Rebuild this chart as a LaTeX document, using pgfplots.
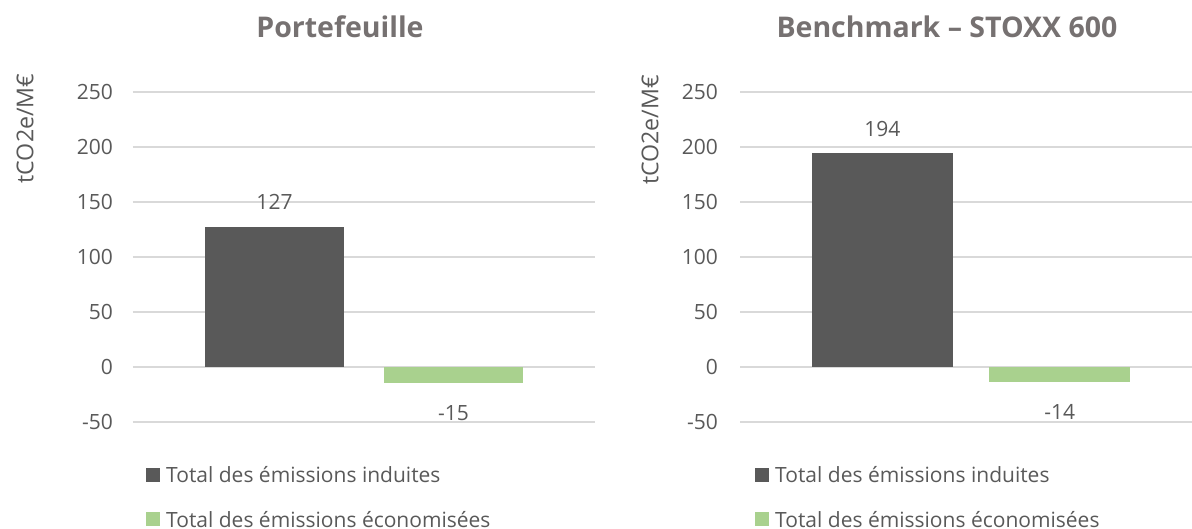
\documentclass[border=0pt]{standalone}
\usepackage{fontspec}
\setmainfont{Open Sans}
\usepackage{pgfplots}
\pgfplotsset{compat=1.18}
\definecolor{darkbar}{HTML}{595959}
\definecolor{greenbar}{HTML}{A9D18E}
\definecolor{txt}{HTML}{595959}
\definecolor{titlec}{HTML}{767171}
\definecolor{gridc}{HTML}{D9D9D9}
\pgfplotsset{
  panel/.style={
    scale only axis,
    width=462pt, height=330pt,
    ymin=-50, ymax=250,
    ytick={-50,0,50,100,150,200,250},
    xtick=\empty,
    axis line style={draw=none},
    major tick length=0pt,
    ymajorgrids,
    grid style={color=gridc, line width=1.6pt},
    /pgf/number format/assume math mode=true,
    tick label style={font=\fontsize{21}{25}\selectfont, text=txt},
    title style={font=\fontsize{28.5}{32}\selectfont\bfseries, text=titlec, anchor=center},
    ylabel style={font=\fontsize{23.2}{27}\selectfont, text=txt, anchor=center},
    legend style={draw=none, fill=none, inner sep=0pt, column sep=6pt, row sep=27pt,
      font=\fontsize{21}{25}\selectfont, text=txt,
      nodes={inner sep=0pt}, legend cell align=left, anchor=west},
    legend image code/.code={\fill[##1] (0pt,-6pt) rectangle (14pt,8pt);},
    nodes near coords,
    every node near coord/.append style={font=\fontsize{21}{25}\selectfont, text=txt},
  },
}
\begin{document}
\begin{tikzpicture}
\useasboundingbox (0pt,0pt) rectangle (1192pt,528pt);
% Left panel
\begin{axis}[panel,
  at={(133pt,106.3pt)}, anchor=south west,
  xmin=-0.7905, xmax=1.7905,
  title={Portefeuille},
  title style={at={(axis description cs:0.448,1.178)}},
  ylabel={tCO2e/M€},
  ylabel style={at={(axis description cs:-0.2338,0.8885)}},
  yticklabel style={anchor=east, inner sep=0pt, xshift=-20pt},
  legend style={at={(axis description cs:0.0281,-0.231)}},
]
\addplot[ybar, bar width=0.777, bar shift=0pt, fill=darkbar, draw=none,
  every node near coord/.append style={anchor=center, yshift=25pt}]
  coordinates {(0,127)};
\addplot[ybar, bar width=0.777, bar shift=0pt, fill=greenbar, draw=none,
  every node near coord/.append style={anchor=center, yshift=-30pt}]
  coordinates {(1,-15)};
\legend{Total des émissions induites, Total des émissions économisées}
\end{axis}
% Right panel
\begin{axis}[panel,
  at={(740pt,106.3pt)}, anchor=south west,
  xmin=-0.803, xmax=1.803,
  title={Benchmark – STOXX 600},
  title style={at={(axis description cs:0.448,1.178)}},
  ylabel={tCO2e/M€},
  ylabel style={at={(axis description cs:-0.1948,0.884)}},
  yticklabel style={anchor=east, inner sep=0pt, xshift=-22pt},
  legend style={at={(axis description cs:0.0325,-0.231)}},
]
\addplot[ybar, bar width=0.794, bar shift=0pt, fill=darkbar, draw=none,
  every node near coord/.append style={anchor=center, yshift=24pt}]
  coordinates {(0,194)};
\addplot[ybar, bar width=0.794, bar shift=0pt, fill=greenbar, draw=none,
  every node near coord/.append style={anchor=center, yshift=-30pt}]
  coordinates {(1,-14)};
\legend{Total des émissions induites, Total des émissions économisées}
\end{axis}
\end{tikzpicture}
\end{document}
